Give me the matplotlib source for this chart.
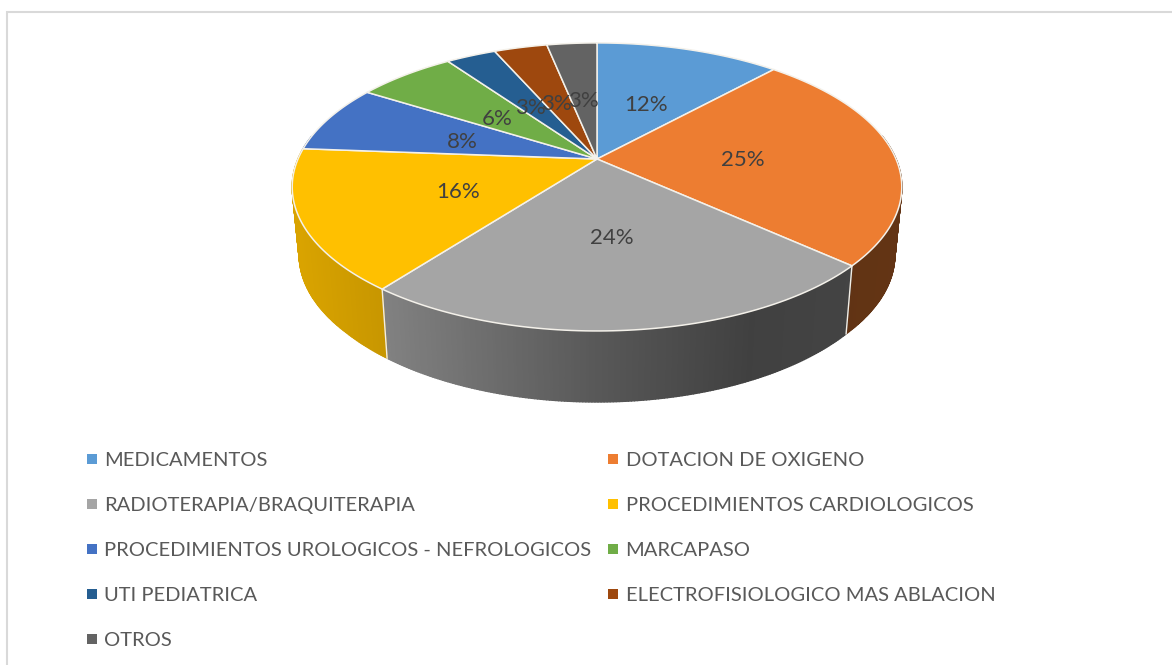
import numpy as np
import matplotlib
matplotlib.use('Agg')
import matplotlib.pyplot as plt
from matplotlib.collections import PolyCollection
from matplotlib.lines import Line2D

categories = ['MEDICAMENTOS', 'DOTACION DE OXIGENO', 'RADIOTERAPIA/BRAQUITERAPIA',
              'PROCEDIMIENTOS CARDIOLOGICOS', 'PROCEDIMIENTOS UROLOGICOS - NEFROLOGICOS',
              'MARCAPASO', 'UTI PEDIATRICA', 'ELECTROFISIOLOGICO MAS ABLACION', 'OTROS']
shares = [11.8, 24.9, 23.7, 15.8, 7.7, 6.3, 3.2, 3.4, 3.2]
colors = ['#5B9BD5', '#ED7D31', '#A5A5A5', '#FFC000', '#4472C4',
          '#70AD47', '#255E91', '#9E480E', '#636363']

plt.rcParams['font.family'] = ['Lato', 'DejaVu Sans']

# tilted pie, perspective is worked out by hand
cx, cy = 597, 159
a, b, k = 299, 138.6, 0.194
shrink = 0.977


def project(t, r=1.0):
    X = r*np.sin(t)
    Y = r*np.cos(t)
    w = 1 + k*Y
    return cx + a*X/w, cy - b*Y/w


def lower(x, y):
    return cx + shrink*(x - cx), y + np.interp(y, [265, 331], [68, 71])


def shade(x):
    return np.interp(x, [297, 385, 600, 750, 900], [.85, .78, .53, .39, .42])


fig = plt.figure(figsize=(11.72, 6.65), dpi=100)
ax = fig.add_axes([0, 0, 1, 1])
ax.set_xlim(0, 1172)
ax.set_ylim(665, 0)
ax.axis('off')

# frame of the chart area
ax.plot([7, 7, 1172], [665, 11.5, 11.5], color='#d9d9d9', lw=1.5, solid_joinstyle='miter')

edges = np.cumsum([0] + shares)/100*2*np.pi

# sides first
for i in range(len(shares)):
    t = np.linspace(edges[i], edges[i+1], max(int((edges[i+1]-edges[i])*120), 2))
    t = t[(t > np.radians(80)) & (t < np.radians(280))]
    if len(t) < 2:
        continue
    x, y = project(t)
    x2, y2 = lower(x, y)
    polys = []
    cols = []
    rgb = np.array(matplotlib.colors.to_rgb(colors[i]))
    for j in range(len(t)-1):
        polys.append([(x[j], y[j]), (x[j+1], y[j+1]), (x2[j+1], y2[j+1]), (x2[j], y2[j])])
        cols.append(rgb*shade((x[j]+x[j+1])/2))
    ax.add_collection(PolyCollection(polys, facecolors=cols, edgecolors='face', linewidths=1.0, zorder=2))

# seams between the visible sides
for e in edges[2:4]:
    x, y = project(e)
    x2, y2 = lower(x, y)
    ax.plot([x, x2], [y, y2], color='#f2eee6', lw=1, zorder=3)

# top of the pie
for i in range(len(shares)):
    t = np.linspace(edges[i], edges[i+1], 80)
    x, y = project(t)
    ax.fill(np.r_[cx, x], np.r_[cy, y], facecolor=colors[i], edgecolor='#f4f1ea',
            lw=1.1, joinstyle='round', zorder=4)

# data labels
for i in range(len(shares)):
    mid = (edges[i] + edges[i+1])/2
    x, y = project(mid, .49)
    ax.text(x, y + 4, '%.0f%%' % shares[i], color='#404040', fontsize=16,
            ha='center', va='center', zorder=6)

handles = [Line2D([], [], ls='none', marker='s', ms=6.5, mfc=c, mec=c, mew=0) for c in colors]
ax.legend(handles[::2] + handles[1::2], categories[::2] + categories[1::2], ncol=2,
          loc='upper left', bbox_to_anchor=(82/1172, 1 - 452/665), frameon=False,
          fontsize=14.5, labelcolor='#595959', labelspacing=1.38, handlelength=1.0,
          handletextpad=.1, columnspacing=.6, borderpad=0, borderaxespad=0)

fig.savefig('out.png', dpi=100)
